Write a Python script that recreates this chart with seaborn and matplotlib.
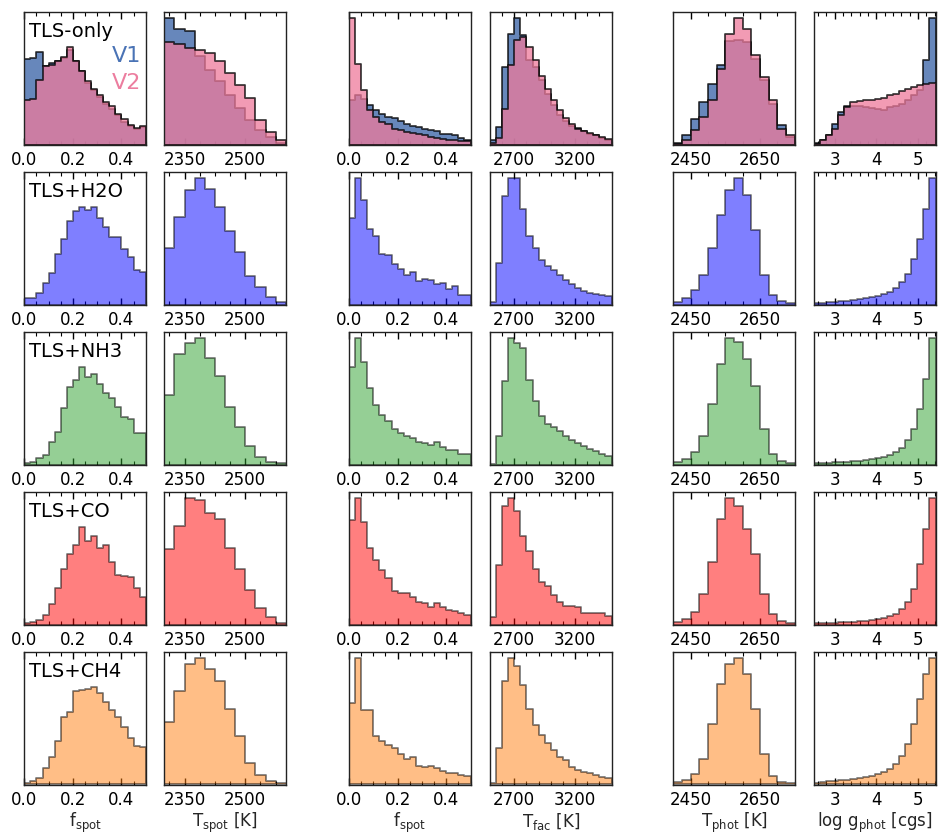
import numpy as np
import pandas as pd
import matplotlib
matplotlib.use("Agg")
import matplotlib.pyplot as plt
from matplotlib.ticker import AutoMinorLocator
import seaborn as sns

# ---- bin heights (arbitrary units, one list per panel) ----
# row 1: TLS-only, V1 and V2
only_v1_fspot = [258, 261, 278, 238, 245, 251, 261, 285, 253, 221, 185, 163, 143, 123, 108, 88, 68, 55, 48, 53]
only_v2_fspot = [135, 138, 196, 236, 241, 253, 265, 293, 251, 223, 193, 168, 148, 128, 115, 93, 78, 58, 51, 55]
only_v1_tspot = [381, 348, 340, 265, 225, 190, 150, 110, 75, 45, 22, 6]
only_v2_tspot = [308, 301, 290, 283, 275, 250, 215, 180, 140, 73, 38, 13]
only_v1_ffac = [133, 148, 138, 118, 105, 93, 83, 81, 71, 61, 57, 53, 48, 43, 40, 33, 31, 28, 21, 15]
only_v2_ffac = [381, 243, 165, 103, 83, 68, 61, 48, 43, 38, 35, 31, 28, 23, 21, 18, 15, 13, 11, 10]
only_v1_tfac = [15, 53, 233, 333, 381, 328, 253, 233, 193, 153, 118, 88, 71, 56, 51, 41, 33, 28, 21, 15]
only_v2_tfac = [5, 21, 108, 238, 315, 323, 293, 253, 205, 168, 133, 103, 81, 63, 48, 41, 35, 28, 23, 18]
only_v1_tphot = [5, 28, 78, 128, 181, 238, 311, 313, 308, 258, 193, 123, 58, 23]
only_v2_tphot = [2, 15, 45, 83, 133, 228, 333, 381, 348, 268, 203, 133, 48, 28]
only_v1_logg = [5, 13, 28, 61, 98, 115, 115, 115, 113, 111, 108, 105, 113, 115, 123, 133, 148, 165, 255, 381]
only_v2_logg = [3, 15, 28, 48, 88, 113, 128, 131, 133, 135, 138, 141, 150, 153, 161, 168, 173, 178, 183, 185]

# TLS+H2O
h2o_fspot = [20, 20, 33, 63, 93, 151, 195, 250, 278, 290, 283, 290, 258, 233, 203, 203, 165, 143, 103, 98]
h2o_tspot = [171, 263, 345, 381, 348, 293, 221, 158, 85, 53, 23, 8]
h2o_ffac = [261, 381, 313, 228, 205, 151, 148, 123, 108, 88, 98, 71, 78, 75, 63, 65, 48, 55, 30, 28]
h2o_tfac = [8, 123, 323, 378, 378, 285, 203, 168, 133, 115, 103, 88, 73, 61, 48, 41, 35, 31, 28, 25]
h2o_tphot = [2, 6, 14, 29, 56, 89, 114, 126, 109, 74, 29, 9, 3, 1]
h2o_logg = [1, 1, 2, 2, 3, 3, 4, 5, 6, 7, 8, 10, 12, 16, 22, 30, 45, 65, 95, 126]

# TLS+NH3
nh3_fspot = [3, 6, 18, 28, 68, 98, 168, 233, 253, 291, 261, 271, 241, 213, 198, 173, 143, 135, 93, 95]
nh3_tspot = [206, 331, 363, 378, 318, 263, 173, 113, 56, 23, 8, 3]
nh3_ffac = [293, 380, 308, 231, 178, 148, 131, 108, 95, 85, 81, 68, 65, 58, 68, 53, 45, 43, 33, 31]
nh3_tfac = [2, 85, 251, 380, 365, 351, 253, 191, 145, 123, 113, 101, 85, 73, 65, 55, 48, 41, 33, 25]
nh3_tphot = [2, 5, 12, 28, 60, 100, 126, 122, 105, 78, 35, 10, 3, 1]
nh3_logg = [1, 1, 1, 2, 2, 2, 3, 3, 4, 5, 6, 7, 9, 12, 16, 24, 35, 55, 85, 126]

# TLS+CO
co_fspot = [3, 8, 13, 28, 61, 108, 165, 211, 238, 290, 248, 263, 228, 238, 188, 148, 145, 143, 108, 83]
co_tspot = [225, 293, 378, 373, 333, 315, 228, 165, 103, 48, 23, 5]
co_ffac = [313, 378, 305, 228, 193, 163, 138, 101, 93, 93, 83, 68, 65, 51, 63, 51, 43, 41, 35, 28]
co_tfac = [23, 178, 353, 378, 338, 265, 218, 165, 128, 115, 88, 68, 55, 55, 53, 35, 35, 35, 33, 25]
co_tphot = [2, 5, 12, 30, 62, 105, 126, 118, 95, 70, 30, 10, 3, 1]
co_logg = [1, 1, 1, 1, 2, 2, 2, 3, 3, 4, 5, 6, 8, 10, 15, 22, 35, 60, 95, 126]

# TLS+CH4
ch4_fspot = [5, 10, 20, 48, 83, 130, 203, 218, 281, 283, 286, 291, 273, 248, 223, 203, 171, 138, 115, 113]
ch4_tspot = [185, 278, 358, 376, 343, 308, 223, 143, 63, 28, 11, 3]
ch4_ffac = [243, 378, 223, 223, 145, 131, 118, 108, 91, 75, 83, 55, 53, 55, 48, 41, 35, 33, 28, 25]
ch4_tfac = [3, 108, 308, 378, 353, 298, 225, 178, 148, 123, 103, 81, 73, 51, 43, 38, 33, 28, 23, 18]
ch4_tphot = [2, 4, 10, 25, 60, 100, 120, 126, 110, 75, 30, 8, 2, 1]
ch4_logg = [1, 2, 3, 3, 4, 4, 5, 6, 7, 8, 10, 12, 15, 20, 28, 40, 60, 85, 110, 126]

row_names = ["TLS-only", "TLS+H2O", "TLS+NH3", "TLS+CO", "TLS+CH4"]
row_colors = [None, "blue", "tab:green", "red", "tab:orange"]
rows = [
    None,
    [h2o_fspot, h2o_tspot, h2o_ffac, h2o_tfac, h2o_tphot, h2o_logg],
    [nh3_fspot, nh3_tspot, nh3_ffac, nh3_tfac, nh3_tphot, nh3_logg],
    [co_fspot, co_tspot, co_ffac, co_tfac, co_tphot, co_logg],
    [ch4_fspot, ch4_tspot, ch4_ffac, ch4_tfac, ch4_tphot, ch4_logg],
]
only_v1 = [only_v1_fspot, only_v1_tspot, only_v1_ffac, only_v1_tfac, only_v1_tphot, only_v1_logg]
only_v2 = [only_v2_fspot, only_v2_tspot, only_v2_ffac, only_v2_tfac, only_v2_tphot, only_v2_logg]

# parameter ranges, major ticks and labels per column
ranges = [(0.0, 0.5), (2300, 2600), (0.0, 0.5), (2500, 3500), (2400, 2750), (2.5, 5.42)]
major_ticks = [[0.0, 0.2, 0.4], [2350, 2500], [0.0, 0.2, 0.4], [2700, 3200], [2450, 2650], [3, 4, 5]]
col_labels = [r"f$_{\rm spot}$", r"T$_{\rm spot}$ [K]", r"f$_{\rm spot}$",
              r"T$_{\rm fac}$ [K]", r"T$_{\rm phot}$ [K]", r"log g$_{\rm phot}$ [cgs]"]

v1_color = "#4c72b0"
v2_color = "#ee7a9b"

sns.set_theme(style="ticks")
plt.rcParams["font.family"] = ["DejaVu Sans"]
plt.rcParams.update({
    "xtick.direction": "in", "xtick.top": True, "xtick.bottom": True,
    "xtick.major.size": 5, "xtick.minor.size": 3,
    "xtick.major.width": 1.0, "xtick.minor.width": 0.8,
    "xtick.labelsize": 12, "xtick.color": "black",
    "axes.edgecolor": "#222222", "axes.linewidth": 1.0,
})

W, H = 943, 835
fig = plt.figure(figsize=(W / 100, H / 100), dpi=100)
col_left = [24.3, 164.3, 349, 490, 673.3, 814]
ax_w, ax_h = 121.5, 133


def draw_hist(ax, vals, lo, hi, colr, alph, ec):
    n = len(vals)
    edges = np.linspace(lo, hi, n + 1)
    df = pd.DataFrame({"x": 0.5 * (edges[:-1] + edges[1:]), "w": np.asarray(vals, dtype=float)})
    sns.histplot(data=df, x="x", weights="w", bins=list(edges), element="step", fill=True,
                 color=colr, alpha=alph, edgecolor=ec, linewidth=1.3, ax=ax)


for r in range(5):
    top = 11.5 + 160 * r
    for c in range(6):
        ax = fig.add_axes([col_left[c] / W, 1 - (top + ax_h) / H, ax_w / W, ax_h / H])
        lo, hi = ranges[c]
        if r == 0:
            series = [(only_v1[c], v1_color, 0.85, (0, 0, 0, 0.75)),
                      (only_v2[c], v2_color, 0.75, (0, 0, 0, 0.75))]
        else:
            series = [(rows[r][c], row_colors[r], 0.5, (0, 0, 0, 0.5))]
        top_val = 0
        for vals, colr, alph, ec in series:
            draw_hist(ax, vals, lo, hi, colr, alph, ec)
            top_val = max(top_val, max(vals))
        ax.set_xlim(lo, hi)
        ax.set_ylim(0, top_val * (1.37 if c == 0 else 1.05))
        ax.set_yticks([])
        ax.set_ylabel("")
        ax.set_xticks(major_ticks[c])
        ax.xaxis.set_minor_locator(AutoMinorLocator())
        ax.tick_params(axis="x", which="both", top=True, labeltop=False, pad=5)
        for sp in ax.spines.values():
            sp.set_visible(True)
        if r == 4:
            ax.set_xlabel(col_labels[c], fontsize=12, labelpad=1)
        else:
            ax.set_xlabel("")
        if c == 0:
            ax.text(0.04, 0.85, row_names[r], transform=ax.transAxes, fontsize=14,
                    ha="left", va="center", color="black")
            if r == 0:
                ax.text(0.96, 0.665, "V1", transform=ax.transAxes, fontsize=16,
                        ha="right", va="center", color="#4a73b5")
                ax.text(0.96, 0.46, "V2", transform=ax.transAxes, fontsize=16,
                        ha="right", va="center", color="#ec7d9f")

fig.savefig("out.png", dpi=100)
